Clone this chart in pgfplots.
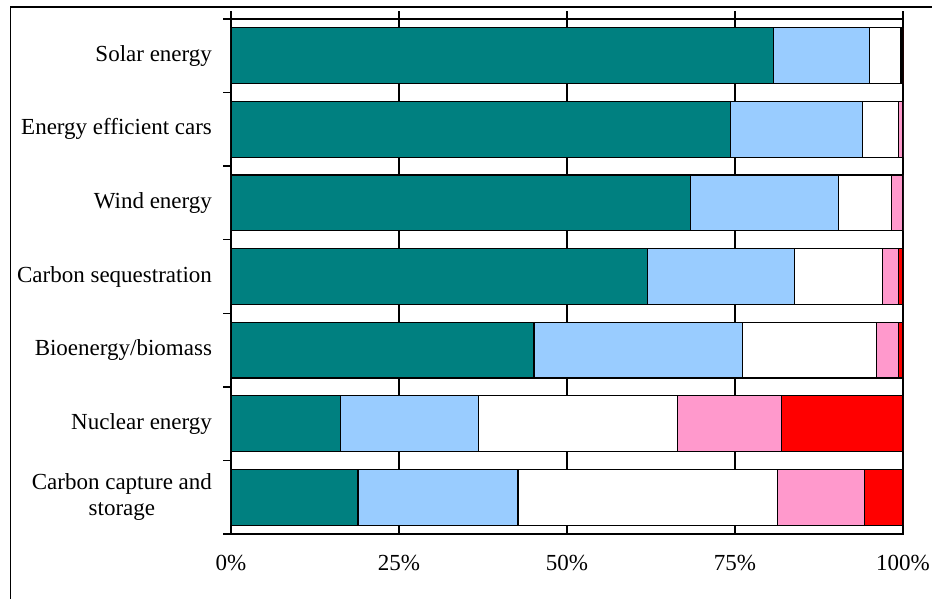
\documentclass[border=0pt]{standalone}
\usepackage{pgfplots}
\pgfplotsset{compat=1.18}
\usepackage{fontspec}
\setmainfont{Liberation Serif}

\definecolor{cteal}{HTML}{008080}
\definecolor{cblue}{HTML}{99CCFF}
\definecolor{cpink}{HTML}{FF99CC}
\definecolor{cred}{HTML}{FF0000}

% share of answers per technology, one table per answer group
% y: 0 = Carbon capture and storage ... 6 = Solar energy
\pgfplotstableread{
x y
18.9 0
16.3 1
45.1 2
62.0 3
68.4 4
74.3 5
80.7 6
}\tteal
\pgfplotstableread{
x y
23.8 0
20.5 1
31.0 2
21.9 3
22.0 4
19.7 5
14.3 6
}\tblue
\pgfplotstableread{
x y
38.6 0
29.6 1
19.9 2
13.1 3
7.9 4
5.3 5
4.7 6
}\twhite
\pgfplotstableread{
x y
13.0 0
15.5 1
3.3 2
2.3 3
1.7 4
0.7 5
0.1 6
}\tpink
\pgfplotstableread{
x y
5.7 0
18.1 1
0.7 2
0.7 3
0.0 4
0.0 5
0.2 6
}\tred

\begin{document}
\begin{tikzpicture}[x=1pt,y=1pt]
\useasboundingbox (0,0) rectangle (466,299.5);
% slide frame
\draw[line width=0.8pt] (5.25,0) -- (5.25,296) -- (470,296);
\begin{axis}[
  at={(115.5pt,32.5pt)}, anchor=south west,
  scale only axis, width=336pt, height=257.5pt,
  xmin=0, xmax=100, ymin=-0.5, ymax=6.5,
  xbar stacked, bar width=0.76,
  font=\fontsize{11.5}{13}\selectfont,
  axis line style={line width=0.9pt},
  tick align=outside, major tick length=3.8pt,
  tick style={black, line width=0.7pt},
  xtick={0,25,50,75,100},
  xticklabels={0\%,25\%,50\%,75\%,100\%},
  xtick pos=right, xticklabel pos=left,
  xticklabel style={yshift=-3.5pt},
  xmajorgrids, grid style={black, line width=0.6pt},
  ytick={-0.5,0.5,...,6.5}, yticklabels={},
  ytick pos=left,
  extra y ticks={0,1,2,3,4,5,6},
  extra y tick labels={{Carbon capture and\\storage},Nuclear energy,Bioenergy/biomass,Carbon sequestration,Wind energy,Energy efficient cars,Solar energy},
  extra y tick style={major tick length=0pt, yticklabel style={align=center, xshift=-6pt}},
  every axis plot/.append style={draw=black, line width=0.6pt},
]
\addplot[fill=cteal] table {\tteal};
\addplot[fill=cblue] table {\tblue};
\addplot[fill=white] table {\twhite};
\addplot[fill=cpink] table {\tpink};
\addplot[fill=cred] table {\tred};
\end{axis}
\end{tikzpicture}
\end{document}
